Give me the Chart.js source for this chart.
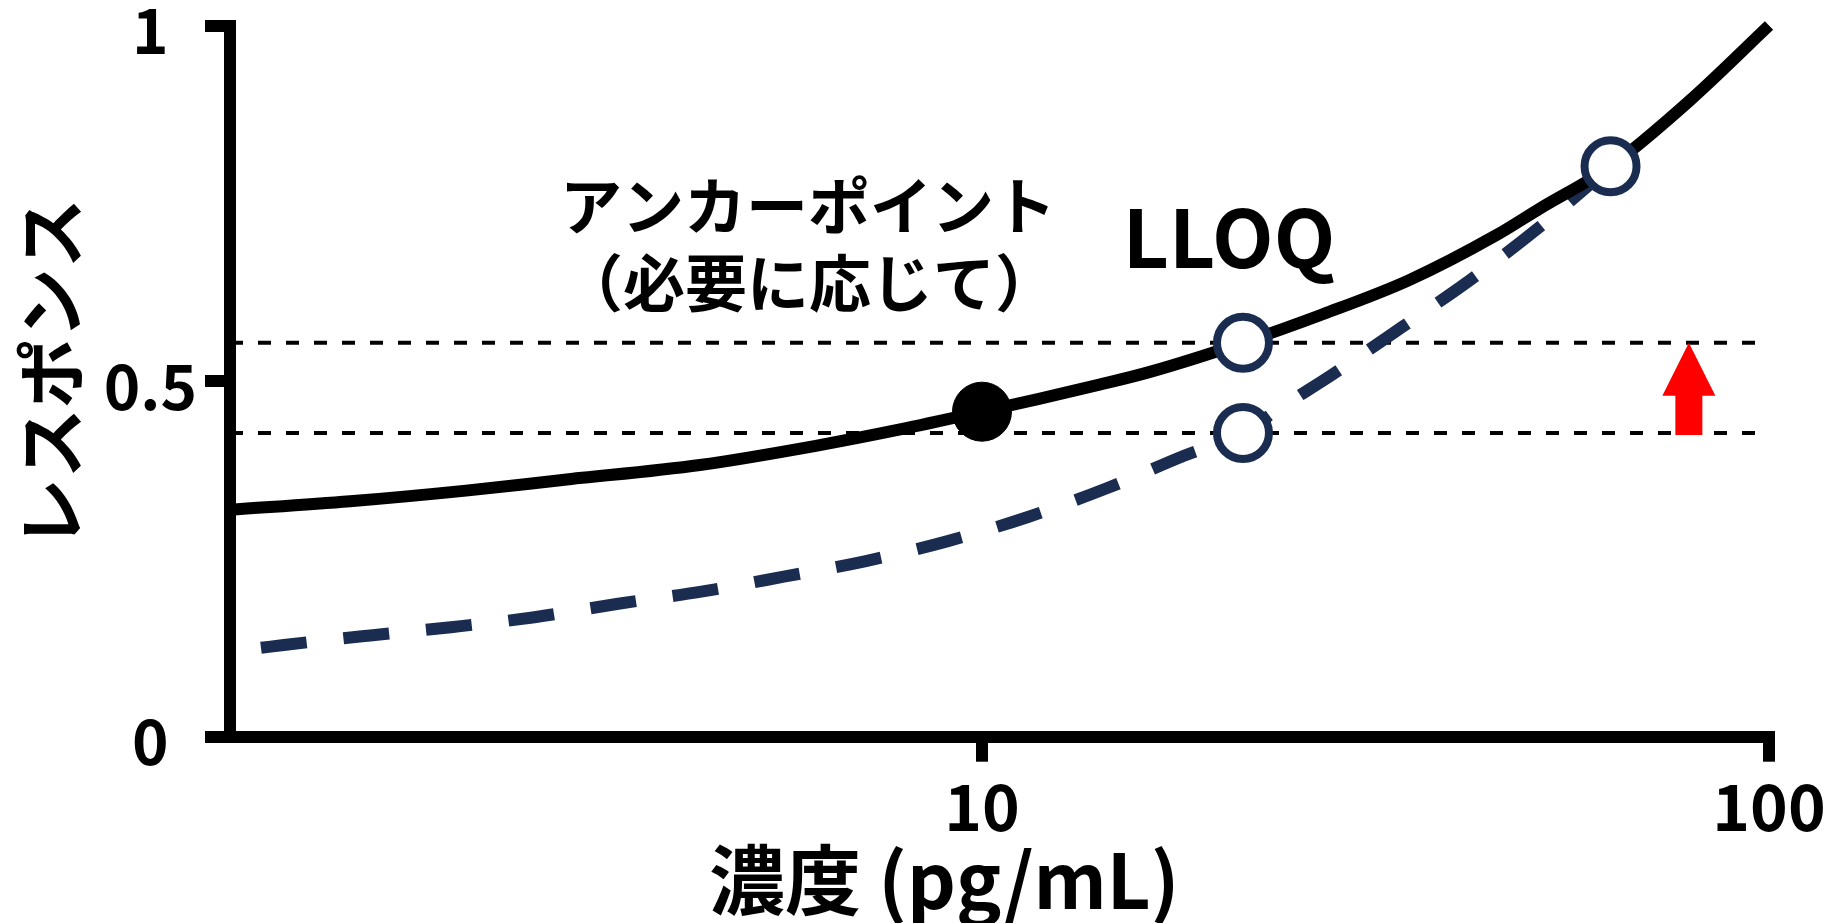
<!DOCTYPE html>
<html>
<head>
<meta charset="utf-8">
<script src="https://cdn.jsdelivr.net/npm/chart.js@4.4.1/dist/chart.umd.min.js"></script>
<style>
  html, body { margin: 0; padding: 0; background: #fff; }
  #wrap { width: 1828px; height: 923px; }
</style>
</head>
<body>
<div id="wrap"><canvas id="c" width="1828" height="923" style="width:1828px;height:923px"></canvas></div>
<script>
// ---------- data ----------
const xMin = 1.108;
const xMax = 100;
const xTicks = [10, 100];
const yTicks = [0, 0.5, 1];

// solid calibration curve
const concSolid = [1.108, 1.574, 2.21, 2.93, 4.38, 6.15, 7.87, 10, 11.7, 14.1, 16.35, 21.46, 27.1, 34.9, 45.0, 51.2, 62.9, 79.4, 100];
const respSolid = [0.319, 0.331, 0.346, 0.361, 0.382, 0.409, 0.432, 0.457, 0.474, 0.495, 0.513, 0.554, 0.594, 0.642, 0.705, 0.743, 0.802, 0.895, 1.0];

// dashed (navy) curve
const concDashed = [1.213, 1.297, 1.659, 2.115, 2.70, 3.45, 4.40, 5.60, 7.12, 9.05, 11.44, 14.46, 18.06, 21.46, 24.05, 27.85, 34.18, 41.7, 50.9, 58.7, 62.9];
const respDashed = [0.125, 0.129, 0.142, 0.154, 0.168, 0.187, 0.204, 0.225, 0.247, 0.275, 0.309, 0.350, 0.395, 0.427, 0.464, 0.509, 0.576, 0.642, 0.715, 0.773, 0.802];

// anchor point (filled)
const anchorConc = [10];
const anchorResp = [0.457];

// open circles
const openConc = [21.46, 21.46, 62.9];
const openResp = [0.554, 0.427, 0.802];

// horizontal reference levels
const levelResp = [0.554, 0.427];

// red arrow position
const arrowConc = 79.1;

// texts
const annoLine1 = 'アンカーポイント';
const annoLine2 = '（必要に応じて）';
const annoLLOQ = 'LLOQ';
const yTitle = 'レスポンス';
const xTitle = '濃度 (pg/mL)';

// ---------- styles ----------
const FONT = "'Noto Sans CJK JP', 'Noto Sans', sans-serif";
const NAVY = '#1a2d50';

const pts = (xs, ys) => xs.map((v, i) => ({x: v, y: ys[i]}));
const noPad = () => ({left: 0, top: 0, right: 0, bottom: 0});

const annotationPlugin = {
  id: 'annotations',
  afterDatasetsDraw(chart) {
    const {ctx, scales: {x, y}} = chart;
    // red arrow from the lower level up to the upper level
    const px = x.getPixelForValue(arrowConc);
    const yTip = y.getPixelForValue(levelResp[0]);
    const yBase = y.getPixelForValue(levelResp[1]) + 2;
    const headLen = 53, headW = 53, shaftW = 27;
    ctx.save();
    ctx.fillStyle = '#ff0000';
    ctx.beginPath();
    ctx.moveTo(px, yTip);
    ctx.lineTo(px + headW / 2, yTip + headLen);
    ctx.lineTo(px + shaftW / 2, yTip + headLen);
    ctx.lineTo(px + shaftW / 2, yBase);
    ctx.lineTo(px - shaftW / 2, yBase);
    ctx.lineTo(px - shaftW / 2, yTip + headLen);
    ctx.lineTo(px - headW / 2, yTip + headLen);
    ctx.closePath();
    ctx.fill();

    // text annotations
    ctx.fillStyle = '#000';
    ctx.textAlign = 'center';
    ctx.textBaseline = 'middle';
    ctx.font = 'bold 62px ' + FONT;
    ctx.fillText(annoLine1, 808, 206.5);
    ctx.fillText(annoLine2, 809, 283.5);
    ctx.font = 'bold 80px ' + FONT;
    ctx.fillText(annoLLOQ, 1229, 238);
    ctx.restore();
  }
};

const ctx = document.getElementById('c').getContext('2d');
new Chart(ctx, {
  type: 'line',
  data: {
    datasets: [
      {
        type: 'scatter',
        data: pts(anchorConc, anchorResp),
        pointRadius: 29.5,
        pointBackgroundColor: '#000',
        pointBorderColor: '#000',
        pointBorderWidth: 1,
        order: 0
      },
      {
        type: 'scatter',
        data: pts(openConc, openResp),
        pointRadius: 26,
        pointBackgroundColor: '#fff',
        pointBorderColor: NAVY,
        pointBorderWidth: 8,
        order: 0
      },
      {
        data: pts(concSolid, respSolid),
        borderColor: '#000',
        borderWidth: 12,
        pointRadius: 0,
        cubicInterpolationMode: 'monotone',
        fill: false,
        clip: false,
        order: 1
      },
      {
        data: pts(concDashed, respDashed),
        borderColor: NAVY,
        borderWidth: 12,
        borderDash: [46, 37],
        borderCapStyle: 'butt',
        pointRadius: 0,
        cubicInterpolationMode: 'monotone',
        fill: false,
        order: 2
      },
      ...levelResp.map(lv => ({
        data: [{x: xMin, y: lv}, {x: xMax, y: lv}],
        borderColor: '#000',
        borderWidth: 4,
        borderDash: [13, 15],
        borderCapStyle: 'butt',
        pointRadius: 0,
        fill: false,
        order: 3
      }))
    ]
  },
  options: {
    responsive: false,
    animation: false,
    devicePixelRatio: 1,
    layout: { autoPadding: false, padding: { top: 25.5, right: 59, bottom: 0, left: 0 } },
    plugins: { legend: { display: false }, tooltip: { enabled: false } },
    scales: {
      x: {
        type: 'logarithmic',
        min: xMin,
        max: xMax,
        afterBuildTicks: (s) => { s.ticks = xTicks.map(v => ({value: v})); },
        afterFit: (s) => { s.height = 186.3; s.paddingLeft = 0; s.paddingRight = 0; s.paddingTop = 0; s.paddingBottom = 0; s.getPadding = noPad; },
        border: { display: true, color: '#000', width: 12 },
        grid: { display: true, drawOnChartArea: false, drawTicks: true, tickLength: 25, tickWidth: 12, tickColor: '#000', color: '#000', lineWidth: 12 },
        ticks: {
          autoSkip: false, maxRotation: 0, minRotation: 0, padding: 6.5,
          color: '#000',
          font: { family: FONT, size: 64, weight: 'bold' },
          callback: (v) => String(v)
        },
        title: {
          display: true,
          text: xTitle + '\u3000  ',
          color: '#000',
          font: { family: FONT, size: 76, weight: 'bold', lineHeight: 1 },
          padding: { top: 0, bottom: 5 }
        }
      },
      y: {
        type: 'linear',
        min: 0,
        max: 1,
        afterBuildTicks: (s) => { s.ticks = yTicks.map(v => ({value: v})); },
        afterFit: (s) => { s.width = 230; s.paddingLeft = 0; s.paddingRight = 0; s.paddingTop = 0; s.paddingBottom = 0; s.getPadding = noPad; },
        border: { display: true, color: '#000', width: 12 },
        grid: { display: true, drawOnChartArea: false, drawTicks: true, tickLength: 25, tickWidth: 12, tickColor: '#000', color: '#000', lineWidth: 12 },
        ticks: {
          crossAlign: 'center', padding: 8, labelOffset: 5,
          color: '#000',
          font: { family: FONT, size: 62, weight: 'bold' },
          callback: (v) => String(v)
        },
        title: {
          display: true,
          text: ' ' + yTitle,
          color: '#000',
          font: { family: FONT, size: 70, weight: 'bold', lineHeight: 1 },
          padding: { top: 16, bottom: 0 }
        }
      }
    }
  },
  plugins: [annotationPlugin]
});
</script>
</body>
</html>
